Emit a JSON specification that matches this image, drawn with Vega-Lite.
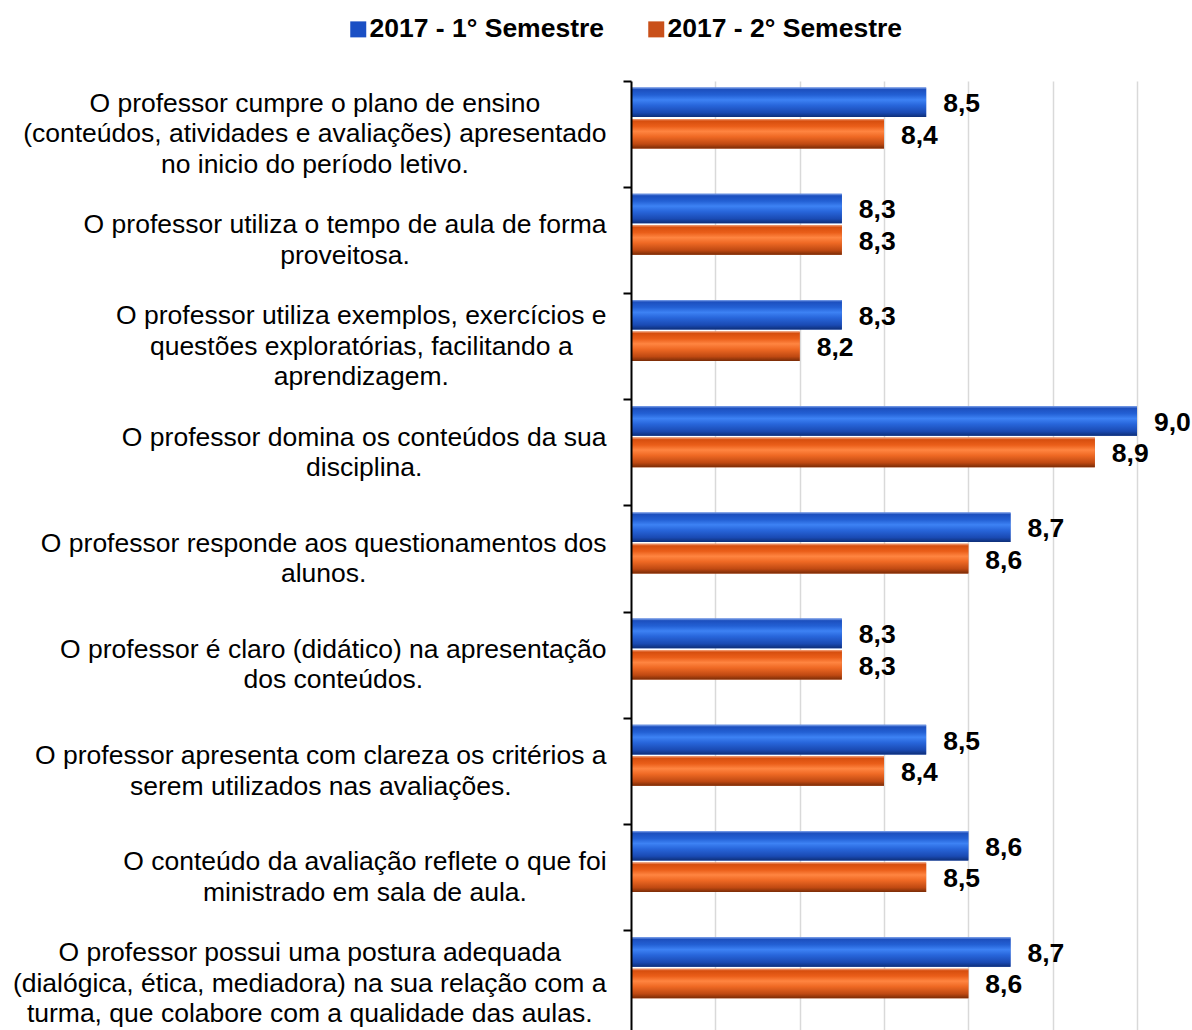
{
  "$schema": "https://vega.github.io/schema/vega-lite/v6.json",
  "width": 506,
  "height": 956,
  "autosize": {"type": "none"},
  "padding": {"left": 631, "top": 81, "right": 55, "bottom": 0},
  "background": "white",
  "config": {
    "view": {"stroke": null},
    "font": "Liberation Sans",
    "locale": {"number": {"decimal": ",", "thousands": ".", "grouping": [3], "currency": ["R$", ""]}}
  },
  "data": {
    "values": [
      {"pergunta": "O professor cumpre o plano de ensino\n(conteúdos, atividades e avaliações) apresentado\nno inicio do período letivo.", "semestre": "2017 - 1° Semestre", "nota": 8.5},
      {"pergunta": "O professor cumpre o plano de ensino\n(conteúdos, atividades e avaliações) apresentado\nno inicio do período letivo.", "semestre": "2017 - 2° Semestre", "nota": 8.4},
      {"pergunta": "O professor utiliza o tempo de aula de forma\nproveitosa.", "semestre": "2017 - 1° Semestre", "nota": 8.3},
      {"pergunta": "O professor utiliza o tempo de aula de forma\nproveitosa.", "semestre": "2017 - 2° Semestre", "nota": 8.3},
      {"pergunta": "O professor utiliza exemplos, exercícios e\nquestões exploratórias, facilitando a\naprendizagem.", "semestre": "2017 - 1° Semestre", "nota": 8.3},
      {"pergunta": "O professor utiliza exemplos, exercícios e\nquestões exploratórias, facilitando a\naprendizagem.", "semestre": "2017 - 2° Semestre", "nota": 8.2},
      {"pergunta": "O professor domina os conteúdos da sua\ndisciplina.", "semestre": "2017 - 1° Semestre", "nota": 9.0},
      {"pergunta": "O professor domina os conteúdos da sua\ndisciplina.", "semestre": "2017 - 2° Semestre", "nota": 8.9},
      {"pergunta": "O professor responde aos questionamentos dos\nalunos.", "semestre": "2017 - 1° Semestre", "nota": 8.7},
      {"pergunta": "O professor responde aos questionamentos dos\nalunos.", "semestre": "2017 - 2° Semestre", "nota": 8.6},
      {"pergunta": "O professor é claro (didático) na apresentação\ndos conteúdos.", "semestre": "2017 - 1° Semestre", "nota": 8.3},
      {"pergunta": "O professor é claro (didático) na apresentação\ndos conteúdos.", "semestre": "2017 - 2° Semestre", "nota": 8.3},
      {"pergunta": "O professor apresenta com clareza os critérios a\nserem utilizados nas avaliações.", "semestre": "2017 - 1° Semestre", "nota": 8.5},
      {"pergunta": "O professor apresenta com clareza os critérios a\nserem utilizados nas avaliações.", "semestre": "2017 - 2° Semestre", "nota": 8.4},
      {"pergunta": "O conteúdo da avaliação reflete o que foi\nministrado em sala de aula.", "semestre": "2017 - 1° Semestre", "nota": 8.6},
      {"pergunta": "O conteúdo da avaliação reflete o que foi\nministrado em sala de aula.", "semestre": "2017 - 2° Semestre", "nota": 8.5},
      {"pergunta": "O professor possui uma postura adequada\n(dialógica, ética, mediadora) na sua relação com a\nturma, que colabore com a qualidade das aulas.", "semestre": "2017 - 1° Semestre", "nota": 8.7},
      {"pergunta": "O professor possui uma postura adequada\n(dialógica, ética, mediadora) na sua relação com a\nturma, que colabore com a qualidade das aulas.", "semestre": "2017 - 2° Semestre", "nota": 8.6}
    ]
  },
  "encoding": {
    "y": {
      "field": "pergunta",
      "type": "nominal",
      "sort": null,
      "scale": {"paddingInner": 0, "paddingOuter": 0},
      "axis": {
        "title": null,
        "bandPosition": 0,
        "zindex": 1,
        "domainColor": "#000000",
        "domainWidth": 2,
        "tickColor": "#000000",
        "tickWidth": 2,
        "tickSize": 8,
        "labelFont": "Liberation Sans",
        "labelFontSize": 26.5,
        "labelColor": "#000000",
        "labelPadding": 17,
        "labelAlign": "center",
        "labelBaseline": "middle",
        "labelLineHeight": 30.5,
        "labelLimit": 0,
        "labelOverlap": false,
        "labelBound": false,
        "labelExpr": "split(datum.label, '\\n')",
        "encoding": {
          "labels": {
            "dy": {"value": {"expr": "-15.25*(length(split(datum.label,'\\n'))-1)"}},
            "dx": {"value": {"expr": "-13.25*max((0.556*length((split(datum.label,'\\n')[0]||''))-0.334*length(replace((split(datum.label,'\\n')[0]||''),regexp('[^ilj]','g'),''))-0.278*length(replace((split(datum.label,'\\n')[0]||''),regexp('[^tf,. í]','g'),''))-0.223*length(replace((split(datum.label,'\\n')[0]||''),regexp('[^r()-]','g'),''))-0.056*length(replace((split(datum.label,'\\n')[0]||''),regexp('[^cksvxyzç]','g'),''))+0.277*length(replace((split(datum.label,'\\n')[0]||''),regexp('[^m]','g'),''))+0.222*length(replace((split(datum.label,'\\n')[0]||''),regexp('[^O]','g'),''))),(0.556*length((split(datum.label,'\\n')[1]||''))-0.334*length(replace((split(datum.label,'\\n')[1]||''),regexp('[^ilj]','g'),''))-0.278*length(replace((split(datum.label,'\\n')[1]||''),regexp('[^tf,. í]','g'),''))-0.223*length(replace((split(datum.label,'\\n')[1]||''),regexp('[^r()-]','g'),''))-0.056*length(replace((split(datum.label,'\\n')[1]||''),regexp('[^cksvxyzç]','g'),''))+0.277*length(replace((split(datum.label,'\\n')[1]||''),regexp('[^m]','g'),''))+0.222*length(replace((split(datum.label,'\\n')[1]||''),regexp('[^O]','g'),''))),(0.556*length((split(datum.label,'\\n')[2]||''))-0.334*length(replace((split(datum.label,'\\n')[2]||''),regexp('[^ilj]','g'),''))-0.278*length(replace((split(datum.label,'\\n')[2]||''),regexp('[^tf,. í]','g'),''))-0.223*length(replace((split(datum.label,'\\n')[2]||''),regexp('[^r()-]','g'),''))-0.056*length(replace((split(datum.label,'\\n')[2]||''),regexp('[^cksvxyzç]','g'),''))+0.277*length(replace((split(datum.label,'\\n')[2]||''),regexp('[^m]','g'),''))+0.222*length(replace((split(datum.label,'\\n')[2]||''),regexp('[^O]','g'),''))))"}}
          }
        }
      }
    },
    "yOffset": {
      "field": "semestre",
      "type": "nominal",
      "scale": {
        "domain": ["2017 - 1° Semestre", "2017 - 2° Semestre"],
        "paddingInner": 0.06,
        "paddingOuter": 0.719,
        "align": 0.1435
      }
    },
    "x": {
      "field": "nota",
      "type": "quantitative",
      "scale": {"domain": [7.8, 9.0], "nice": false, "zero": false},
      "axis": {
        "title": null,
        "labels": false,
        "ticks": false,
        "domain": false,
        "grid": true,
        "gridColor": "#d9d9d9",
        "gridWidth": 1.5,
        "values": [8.0, 8.2, 8.4, 8.6, 8.8, 9.0]
      }
    }
  },
  "layer": [
    {
      "mark": {"type": "bar"},
      "encoding": {
        "x2": {"datum": 7.8},
        "color": {
          "field": "semestre",
          "type": "nominal",
          "scale": {"domain": ["2017 - 1° Semestre", "2017 - 2° Semestre"], "range": ["#1A4FC4", "#C9501A"]},
          "legend": {
            "orient": "none",
            "legendX": -286,
            "legendY": -65,
            "direction": "horizontal",
            "title": null,
            "symbolType": "square",
            "symbolSize": 256,
            "symbolStrokeWidth": 0,
            "symbolOpacity": 1,
            "labelFont": "Liberation Sans",
            "labelFontSize": 26.5,
            "labelFontWeight": "bold",
            "labelColor": "#000000",
            "labelOffset": -2,
            "columnPadding": 38,
            "labelLimit": 0,
            "padding": 0
          }
        }
      }
    },
    {
      "transform": [{"filter": "datum.semestre === '2017 - 1° Semestre'"}],
      "mark": {
        "type": "bar",
        "color": {
          "gradient": "linear", "x1": 0, "y1": 0, "x2": 0, "y2": 1,
          "stops": [
            {"offset": 0, "color": "#86A9EE"},
            {"offset": 0.07, "color": "#1C4FBE"},
            {"offset": 0.25, "color": "#2360D4"},
            {"offset": 0.42, "color": "#3D82F4"},
            {"offset": 0.6, "color": "#2866DB"},
            {"offset": 0.85, "color": "#1A4AB3"},
            {"offset": 1, "color": "#0E2F78"}
          ]
        }
      },
      "encoding": {"x2": {"datum": 7.8}}
    },
    {
      "transform": [{"filter": "datum.semestre === '2017 - 2° Semestre'"}],
      "mark": {
        "type": "bar",
        "color": {
          "gradient": "linear", "x1": 0, "y1": 0, "x2": 0, "y2": 1,
          "stops": [
            {"offset": 0, "color": "#F5A47E"},
            {"offset": 0.07, "color": "#D64E0E"},
            {"offset": 0.25, "color": "#EA5E19"},
            {"offset": 0.42, "color": "#FF8541"},
            {"offset": 0.6, "color": "#EF6924"},
            {"offset": 0.85, "color": "#BF4912"},
            {"offset": 1, "color": "#7A2C07"}
          ]
        }
      },
      "encoding": {"x2": {"datum": 7.8}}
    },
    {
      "mark": {
        "type": "text",
        "align": "left",
        "baseline": "middle",
        "dx": 17,
        "dy": 2,
        "font": "Liberation Sans",
        "fontSize": 26.5,
        "fontWeight": "bold",
        "color": "#000000"
      },
      "encoding": {
        "text": {"field": "nota", "type": "quantitative", "format": ".1f"}
      }
    }
  ]
}
